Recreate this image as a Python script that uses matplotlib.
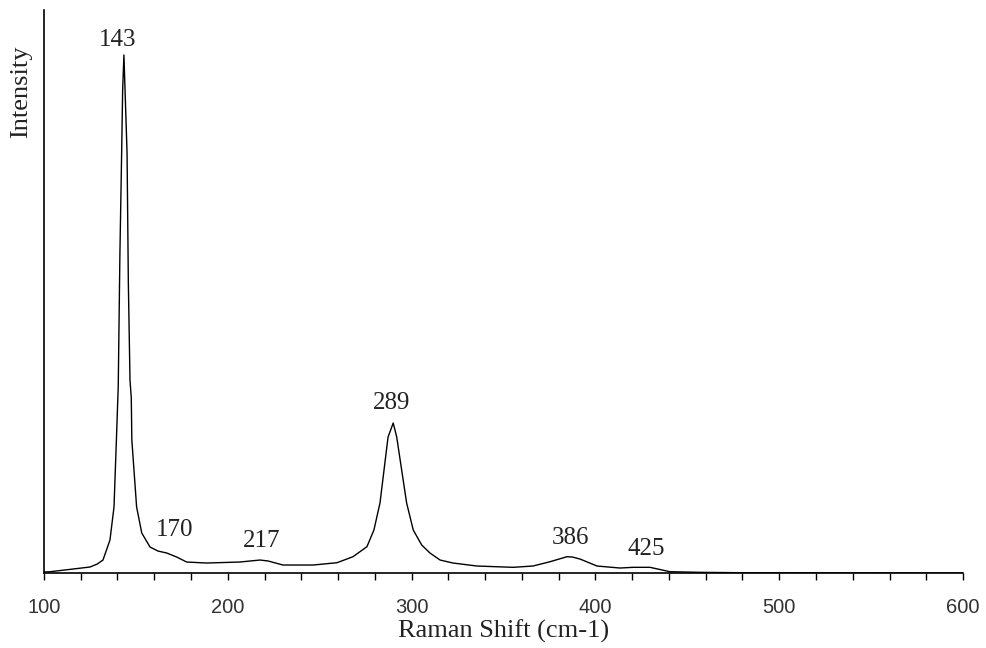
import matplotlib
matplotlib.use("Agg")
import matplotlib.pyplot as plt
from matplotlib.ticker import MultipleLocator

# Raman spectrum (shift in cm-1, relative intensity)
shift = [100, 103.3, 115.8, 125.0, 129.0, 132.1, 135.9, 138.1, 139.4, 139.9, 140.4, 141.3,
         142.3, 142.8, 143.5, 144.1, 145.2, 145.9, 146.8, 147.5, 147.8, 150.4,
         153.2, 157.7, 162.0, 166.8, 172.2, 177.6, 188.5, 206.6, 217.5, 222.0, 230.0, 246.4,
         259.4, 268.1, 275.7, 279.5, 282.8, 285.0, 287.2, 290.0, 291.9, 294.6,
         297.3, 300.9, 305.5, 310.0, 315.5, 322.5, 335.6, 355.2, 366.0, 375.3,
         384.5, 387.5, 391.6, 400.9, 413.4, 420.5, 429.7, 440.6, 456.9, 480.3, 600]
intensity = [1, 1.3, 4, 6, 9, 13, 33, 66, 133, 160, 186, 318,
             425, 483, 518, 483, 420, 290, 193, 175, 133, 66,
             40, 26, 22, 20, 16, 11, 10, 11, 13, 12, 8, 8,
             10.3, 16.3, 26.3, 43, 70, 103, 136, 150, 136, 103,
             70, 43, 28, 20, 13, 10, 7, 5.7, 7, 11.3,
             16.3, 16, 14, 7, 5, 5.7, 5.7, 1.3, 0.7, 0.3, 0]

peak_labels = ["143", "170", "217", "289", "386", "425"]
label_x = [140.3, 171.3, 218.6, 289.3, 386.2, 427.5]
label_y = [533, 43, 32, 170, 35, 24]

serif = ["Liberation Serif", "DejaVu Serif"]
sans = ["Liberation Sans", "DejaVu Sans"]

fig = plt.figure(figsize=(9.86, 6.48), dpi=100)
ax = fig.add_axes([0.0446, 0.1157, 0.9321, 0.8689])

ax.plot(shift, intensity, color="black", linewidth=1.0)

for t, x, y in zip(peak_labels, label_x, label_y):
    ax.text(x, y, t, ha="center", va="center", fontsize=18, family=serif, color="#222222")

ax.set_xlim(100, 600)
ax.set_ylim(0, 563)
ax.spines["top"].set_visible(False)
ax.spines["right"].set_visible(False)
ax.spines["left"].set_linewidth(1.2)
ax.spines["bottom"].set_linewidth(1.2)
ax.set_yticks([])
ax.xaxis.set_major_locator(MultipleLocator(100))
ax.xaxis.set_minor_locator(MultipleLocator(20))
ax.tick_params(axis="x", which="both", direction="out", length=5, width=1.0, color="black")
ax.tick_params(axis="x", which="major", pad=13, labelsize=14.5, labelcolor="#333333")
for lab in ax.get_xticklabels():
    lab.set_family(sans)

ax.set_xlabel("Raman Shift (cm-1)", fontsize=19, family=serif, color="#222222", labelpad=2)
ax.set_ylabel("Intensity", fontsize=19, family=serif, color="#222222")
ax.yaxis.set_label_coords(-0.013, 0.854)

fig.savefig("out.png", dpi=100)
